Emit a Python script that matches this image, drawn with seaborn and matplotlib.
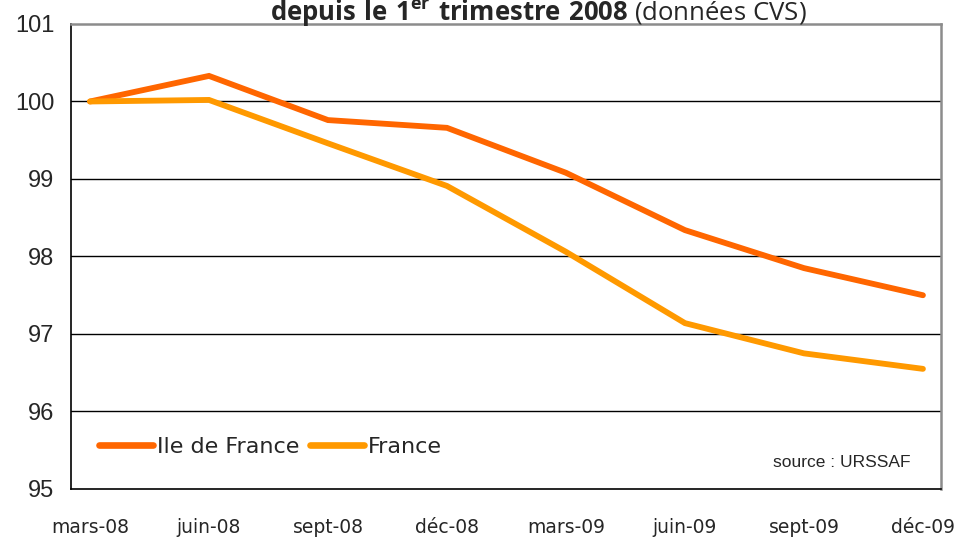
"""
Emploi salarié - indice base 100 au 1er trimestre 2008 (Ile de France vs France).
"""

import pandas as pd
import matplotlib
matplotlib.use("Agg")
import matplotlib.pyplot as plt
from matplotlib.lines import Line2D
import seaborn as sns

# Data
quarters = ['mars-08', 'juin-08', 'sept-08', 'déc-08',
            'mars-09', 'juin-09', 'sept-09', 'déc-09']
idf_values = [100.0, 100.33, 99.76, 99.66, 99.08, 98.34, 97.85, 97.50]
france_values = [100.0, 100.02, 99.46, 98.91, 98.06, 97.14, 96.75, 96.55]
series_names = ['Ile de France', 'France']
series_colors = ['#FF6600', '#FF9900']
y_ticks = [95, 96, 97, 98, 99, 100, 101]

sns.set_style('white')
plt.rcParams['font.family'] = ['DejaVu Sans']

df = pd.DataFrame({
    'pos': list(range(len(quarters))) * 2,
    'value': idf_values + france_values,
    'serie': [series_names[0]] * len(quarters) + [series_names[1]] * len(quarters),
})

fig = plt.figure(figsize=(9.59, 5.39), dpi=100)
ax = fig.add_axes([0.074, 0.0928, 0.907, 0.8627])

sns.lineplot(data=df, x='pos', y='value', hue='serie',
             palette=dict(zip(series_names, series_colors)),
             linewidth=4.2, ax=ax, legend=False,
             solid_capstyle='round', solid_joinstyle='miter')

# Axes limits / gridlines
ax.set_ylim(95, 101)
ax.set_xlim(-0.16, 7.15)
ax.set_yticks(y_ticks)
ax.set_yticklabels([str(v) for v in y_ticks], fontsize=17, family='Liberation Sans')
for v in y_ticks[1:-1]:
    ax.axhline(v, color='black', linewidth=1.0, zorder=0)

# Category labels at data points, tick marks between categories
ax.set_xticks(range(len(quarters)))
ax.set_xticklabels(quarters, fontsize=13.5)
ax.set_xticks([i - 0.16 for i in range(len(quarters))], minor=True)
ax.tick_params(axis='x', which='major', length=0, pad=21)
ax.tick_params(axis='x', which='minor', length=6, width=1, color='black', direction='out')
ax.tick_params(axis='y', length=6, width=1, color='black', direction='out', pad=6)
ax.set_xlabel('')
ax.set_ylabel('')

for side in ['left', 'bottom']:
    ax.spines[side].set_color('black')
    ax.spines[side].set_linewidth(1.2)
for side in ['right', 'top']:
    ax.spines[side].set_visible(True)
    ax.spines[side].set_color('#8c8c8c')
    ax.spines[side].set_linewidth(1.8)

# Legend
handles = [Line2D([0], [0], color=c, linewidth=4.8, solid_capstyle='round')
           for c in series_colors]
ax.legend(handles, series_names, loc='center left', bbox_to_anchor=(0.012, 0.09),
          ncol=2, frameon=False, fontsize=16, handlelength=2.4,
          handletextpad=0.2, columnspacing=0.5, borderpad=0.3)

ax.text(0.965, 0.058, 'source : URSSAF', transform=ax.transAxes, ha='right',
        va='center', fontsize=12.5, family='Liberation Sans')

# Title (top part cut in the reference)
plt.rcParams['mathtext.fontset'] = 'custom'
plt.rcParams['mathtext.bf'] = 'Open Sans:bold'
plt.rcParams['mathtext.rm'] = 'Open Sans'
fig.text(0.561, 0.962,
         r'$\mathbf{depuis\ le\ 1^{er}\ trimestre\ 2008}$ (données CVS)',
         ha='center', va='baseline', fontsize=18.5, family='Open Sans')

fig.savefig('out.png', dpi=100, facecolor='white')
plt.close(fig)
